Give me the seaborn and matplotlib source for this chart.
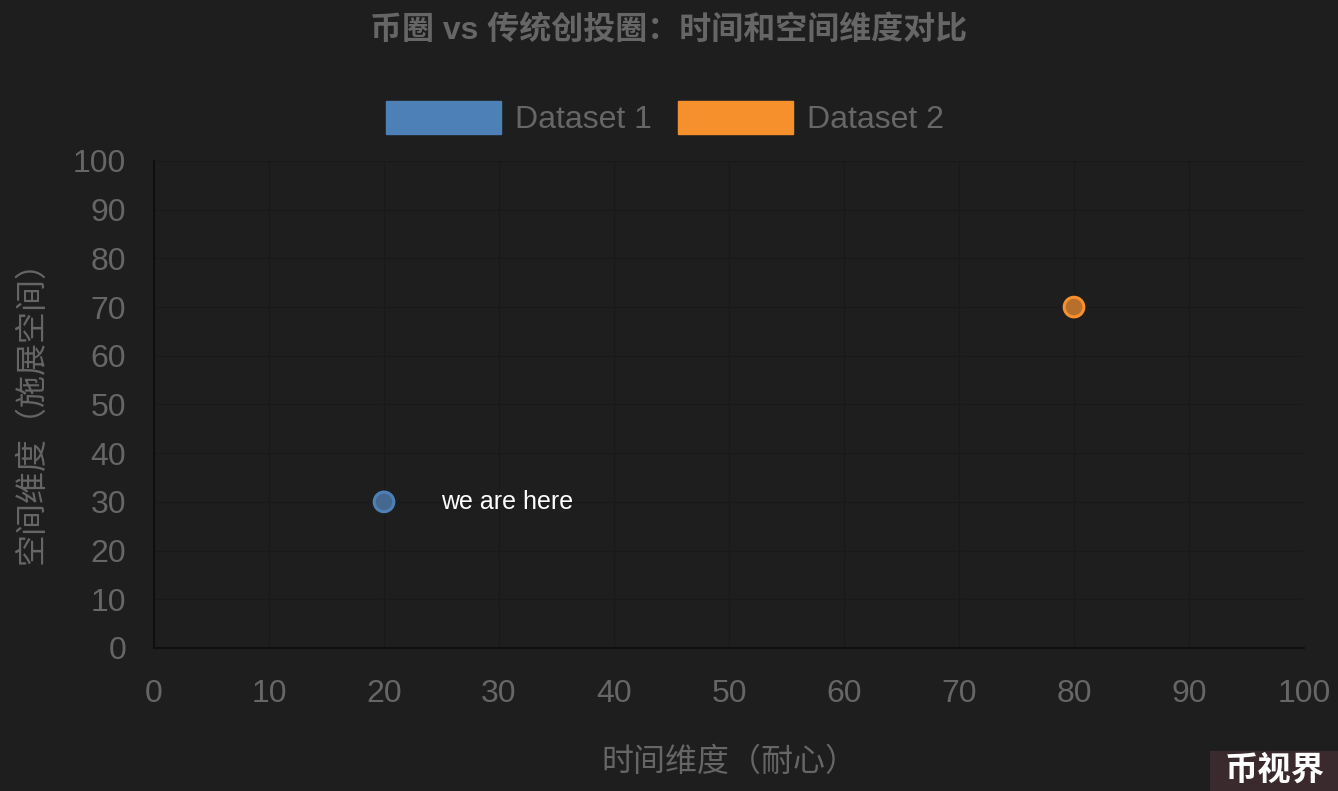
import pandas as pd
import matplotlib.pyplot as plt
import seaborn as sns
from matplotlib.patches import Patch, Rectangle

# data
datasets = ["Dataset 1", "Dataset 2"]
x_vals = [20, 80]
y_vals = [30, 70]
colors = ["#4e80b8", "#f5902c"]
fills = ["#44688f", "#b7702c"]
note_text = "we are here"
note_xy = (25, 30)

title = "币圈 vs 传统创投圈：时间和空间维度对比"
x_label = "时间维度（耐心）"
y_label = "空间维度（施展空间）"
watermark = "币视界"

BG = "#1e1e1e"
GRID = "#191919"
TXT = "#666666"

sns.set_style("dark")
plt.rcParams["font.family"] = ["Liberation Sans", "Noto Sans CJK SC", "DejaVu Sans"]

df = pd.DataFrame({"x": x_vals, "y": y_vals, "set": datasets})

fig = plt.figure(figsize=(13.38, 7.91), dpi=100, facecolor=BG)
ax = fig.add_axes([0.1151, 0.1808, 0.8595, 0.6157])
ax.set_facecolor(BG)

sns.scatterplot(
    data=df, x="x", y="y", hue="set",
    palette=dict(zip(datasets, fills)),
    s=200, linewidth=2.2, edgecolor=colors,
    legend=False, ax=ax, zorder=3,
)

ax.set_xlim(0, 100)
ax.set_ylim(0, 100)
ax.set_xticks(range(0, 101, 10))
ax.set_yticks(range(0, 101, 10))
ax.grid(True, color=GRID, linewidth=1)
ax.tick_params(colors=TXT, labelsize=23, length=12, width=1)
ax.tick_params(axis="x", color=GRID, pad=10)
ax.tick_params(axis="y", color=GRID, pad=8)
for side in ["top", "right"]:
    ax.spines[side].set_visible(False)
for side in ["left", "bottom"]:
    ax.spines[side].set_color("#0f0f0f")
    ax.spines[side].set_linewidth(1.5)

ax.set_xlabel(x_label, color=TXT, fontsize=23, labelpad=28)
ax.set_ylabel(y_label, color=TXT, fontsize=23, labelpad=18)

ax.text(note_xy[0], note_xy[1], note_text, color="white", fontsize=18,
        va="center", ha="left", family=["Liberation Sans", "DejaVu Sans"])

fig.text(0.5, 0.962, title, color=TXT, fontsize=23, fontweight="bold",
         ha="center", va="center")

handles = [Patch(facecolor=c, edgecolor=c) for c in colors]
fig.legend(handles, datasets, loc="center", bbox_to_anchor=(0.497, 0.851),
           ncol=2, frameon=False, fontsize=23, labelcolor=TXT,
           handlelength=3.6, handleheight=1.25, handletextpad=0.45,
           columnspacing=0.8)

# watermark box in the corner
fig.patches.append(Rectangle((1210 / 1338, 0), 128 / 1338, 40 / 791,
                             transform=fig.transFigure, facecolor="#3a2a2e",
                             edgecolor="none", zorder=5))
fig.text(1275 / 1338, 20 / 791, watermark, color="white", fontsize=24,
         fontweight="bold", ha="center", va="center", zorder=6)

fig.savefig("out.png", dpi=100, facecolor=BG)
